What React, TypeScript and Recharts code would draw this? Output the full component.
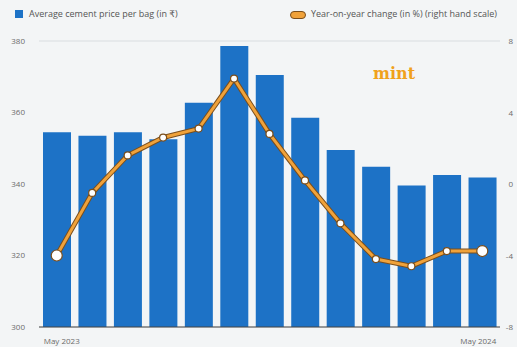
import React from "react";
import {
  ComposedChart,
  Bar,
  Line,
  XAxis,
  YAxis,
  CartesianGrid,
} from "recharts";

// Monthly data, May 2023 - May 2024
const months = [
  "May 2023", "Jun 2023", "Jul 2023", "Aug 2023", "Sep 2023", "Oct 2023", "Nov 2023",
  "Dec 2023", "Jan 2024", "Feb 2024", "Mar 2024", "Apr 2024", "May 2024",
];
const avgPrice = [354.5, 353.5, 354.5, 352.5, 362.7, 378.6, 370.5, 358.5, 349.5, 344.8, 339.6, 342.5, 341.8];
const yoyChange = [-4.0, -0.5, 1.6, 2.6, 3.1, 5.9, 2.8, 0.2, -2.2, -4.2, -4.6, -3.75, -3.75];

const leftTicks = [300, 320, 340, 360, 380];
const rightTicks = [-8, -4, 0, 4, 8];

const BLUE = "#1d72c6";
const ORANGE = "#f0a23a";
const BROWN = "#7a4e1c";
const TICK = "#6b6b6b";

const data = months.map((m, i) => ({
  month: m,
  price: avgPrice[i],
  yoy: yoyChange[i],
}));

const fontFamily = "'Open Sans', 'DejaVu Sans', sans-serif";

function LegendBox() {
  return (
    <div
      style={{
        position: "absolute",
        left: 0,
        top: 6,
        width: 517,
        height: 20,
        fontFamily,
        fontSize: 9,
        color: "#555",
      }}
    >
      <div style={{ position: "absolute", left: 15, top: 4, width: 8, height: 8, background: BLUE }} />
      <span style={{ position: "absolute", left: 29, top: 1 }}>Average cement price per bag (in ₹)</span>
      <div
        style={{
          position: "absolute",
          left: 290,
          top: 5,
          width: 14,
          height: 6,
          borderRadius: 4,
          background: ORANGE,
          border: `1px solid ${BROWN}`,
        }}
      />
      <span style={{ position: "absolute", left: 311, top: 1, whiteSpace: "nowrap" }}>
        Year-on-year change (in %) (right hand scale)
      </span>
    </div>
  );
}

const renderDot = (props: any) => {
  const { cx, cy, index } = props;
  const big = index === 0 || index === data.length - 1;
  return (
    <circle
      key={`dot-${index}`}
      cx={cx}
      cy={cy}
      r={big ? 5.5 : 3.5}
      fill="#ffffff"
      stroke={BROWN}
      strokeWidth={1.2}
    />
  );
};

const renderXTick = (props: any) => {
  const { x, y, payload, index } = props;
  if (index !== 0 && index !== data.length - 1) return <g key={`xt-${index}`} />;
  const first = index === 0;
  return (
    <text
      key={`xt-${index}`}
      x={first ? x - 13 : x + 14}
      y={y + 9}
      textAnchor={first ? "start" : "end"}
      fontSize={8}
      fill={TICK}
      fontFamily={fontFamily}
    >
      {payload.value}
    </text>
  );
};

const renderRightTick = (props: any) => {
  const { y, payload } = props;
  return (
    <text x={513} y={y + 3} textAnchor="end" fontSize={8} fill={TICK} fontFamily={fontFamily}>
      {payload.value}
    </text>
  );
};

export default function App() {
  return (
    <div
      style={{
        position: "fixed",
        left: 0,
        top: 0,
        width: 517,
        height: 347,
        background: "#f3f5f6",
        overflow: "hidden",
      }}
    >
      <ComposedChart
        width={517}
        height={347}
        data={data}
        margin={{ top: 41, right: 0, bottom: 0, left: 0 }}
        barCategoryGap={4}
      >
        <CartesianGrid horizontal vertical={false} stroke="#d9dde0" strokeWidth={1} />
        <XAxis
          dataKey="month"
          height={20}
          interval={0}
          tickLine={false}
          axisLine={{ stroke: "#444", strokeWidth: 1 }}
          tick={renderXTick}
        />
        <YAxis
          yAxisId="left"
          orientation="left"
          width={39}
          domain={[300, 380]}
          ticks={leftTicks}
          axisLine={false}
          tickLine={false}
          tickSize={0}
          tickMargin={14}
          tick={{ fontSize: 8, fill: TICK, fontFamily }}
        />
        <YAxis
          yAxisId="right"
          orientation="right"
          width={17}
          domain={[-8, 8]}
          ticks={rightTicks}
          axisLine={false}
          tickLine={false}
          tick={renderRightTick}
        />
        <Bar yAxisId="left" dataKey="price" fill={BLUE} barSize={28} isAnimationActive={false} />
        {/* dark outline under the orange line */}
        <Line
          yAxisId="right"
          dataKey="yoy"
          type="linear"
          stroke={BROWN}
          strokeWidth={5}
          strokeLinejoin="round"
          dot={false}
          activeDot={false}
          isAnimationActive={false}
        />
        <Line
          yAxisId="right"
          dataKey="yoy"
          type="linear"
          stroke={ORANGE}
          strokeWidth={3}
          strokeLinejoin="round"
          dot={renderDot}
          activeDot={false}
          isAnimationActive={false}
        />
      </ComposedChart>
      <LegendBox />
      <div
        style={{
          position: "absolute",
          left: 373,
          top: 64,
          fontFamily: "'DejaVu Serif', 'Liberation Serif', serif",
          fontWeight: "bold",
          fontSize: 16,
          color: "#f0a21c",
        }}
      >
        mint
      </div>
    </div>
  );
}
